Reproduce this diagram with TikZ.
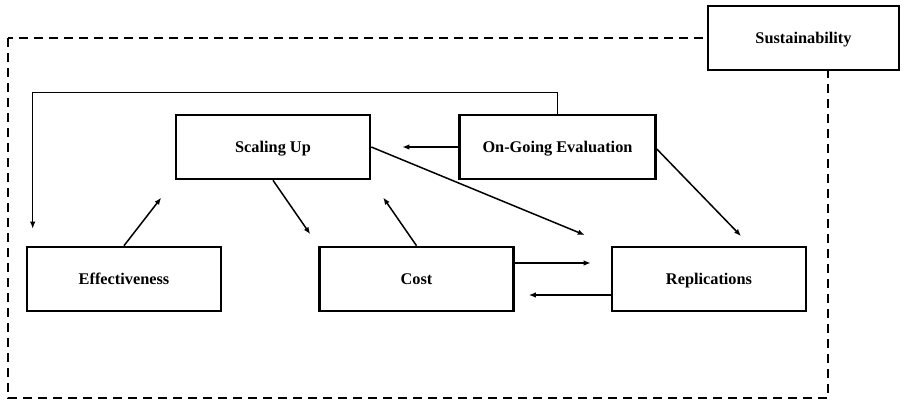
\documentclass[tikz,border=0pt]{standalone}
\usepackage{fontspec}
\setmainfont{Liberation Serif}
\usepackage{tikz}
\usetikzlibrary{arrows.meta, positioning}

\begin{document}
\begin{tikzpicture}[x=1pt, y=-1pt, >={Latex[length=7pt,width=5.5pt]},
    box/.style={draw, black, line width=2.6pt, fill=white, minimum width=194pt,
        minimum height=64pt, inner sep=0pt, text height=11pt, text depth=0pt,
        font=\fontsize{16.3}{19}\selectfont\bfseries},
    link/.style={->, black, line width=1.5pt}]
    \useasboundingbox (0,0) rectangle (902,400);

    % 1. Khung nét đứt bao quanh
    \draw[black, line width=2.6pt, dash pattern=on 9pt off 6pt] (8,38) rectangle (828,398);

    % 2. Các khối
    \node[box, minimum width=191pt] (sust) at (803.5,38) {Sustainability};
    \node[box] (scal) at (273,147) {Scaling Up};
    \node[box, minimum width=196pt] (eval) at (557.5,147) {On-Going Evaluation};
    \node[box] (effe) at (124,279) {Effectiveness};
    \node[box] (cost) at (416.5,279) {Cost};
    \node[box] (repl) at (709,279) {Replications};

    % 3. Đường phản hồi phía trên
    \draw[link, line width=1.3pt, shorten >=17pt] (eval.north) -- ++(0,-21) -| ([xshift=7pt]effe.north west);

    % 4. Các mũi tên
    \draw[link, shorten >=31pt] (eval.west) -- (scal.east);
    \coordinate (evtip) at (741,236);
    \draw[link] ([yshift=-2pt]eval.east) -- (evtip);
    \draw[link, shorten >=28pt] (scal.east) -- (repl.north west);
    \draw[link, shorten >=14pt] (scal.south) -- (cost.north west);
    \draw[link, shorten >=21pt] (cost.north) -- (scal.south east);
    \draw[link, shorten >=22pt] (effe.north) -- (scal.south west);
    \draw[link, shorten >=20pt] ([yshift=16pt]cost.east) -- ([yshift=16pt]repl.west);
    \draw[link, shorten >=14pt] ([yshift=-16pt]repl.west) -- ([yshift=-16pt]cost.east);

\end{tikzpicture}
\end{document}
